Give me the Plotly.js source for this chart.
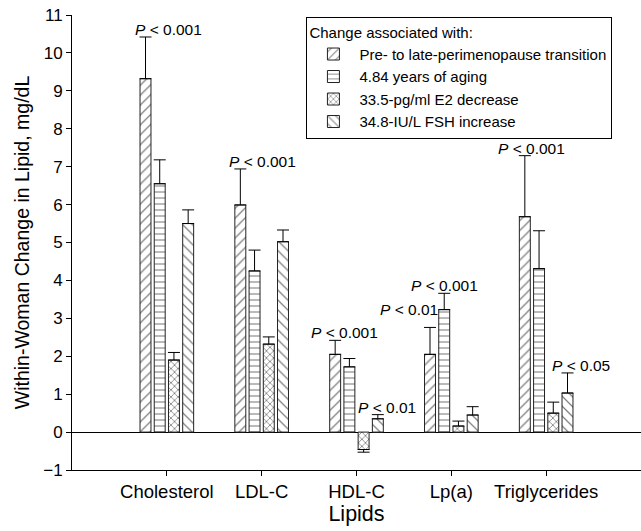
<!DOCTYPE html>
<html>
<head>
<meta charset="utf-8">
<script src="https://cdn.plot.ly/plotly-3.0.1.min.js"></script>
<style>html,body{margin:0;padding:0;background:#fff}#chart{width:641px;height:531px}</style>
</head>
<body>
<div id="chart"></div>
<script>
// Data
var categories = ["Cholesterol", "LDL-C", "HDL-C", "Lp(a)", "Triglycerides"];
var seriesNames = [
  "Pre- to late-perimenopause transition",
  "4.84 years of aging",
  "33.5-pg/ml E2 decrease",
  "34.8-IU/L FSH increase"
];
var transitionVals = [9.32, 5.99, 2.05, 2.05, 5.68];
var transitionErr  = [1.10, 0.95, 0.37, 0.71, 1.61];
var agingVals      = [6.55, 4.25, 1.72, 3.23, 4.31];
var agingErr       = [0.63, 0.55, 0.22, 0.43, 1.00];
var e2Vals         = [1.90, 2.32, -0.46, 0.16, 0.50];
var e2Err          = [0.20, 0.19, 0.07, 0.13, 0.29];
var fshVals        = [5.50, 5.02, 0.35, 0.45, 1.03];
var fshErr         = [0.36, 0.31, 0.11, 0.22, 0.53];

// P-value labels: text, category index, series index
var pTexts    = ["< 0.001", "< 0.001", "< 0.001", "< 0.01", "< 0.01", "< 0.001", "< 0.001", "< 0.05"];
var pCategory = [0, 1, 2, 2, 3, 3, 4, 4];
var pSeries   = [0, 0, 0, 3, 0, 1, 0, 3];

// Build
var xPos = categories.map(function (_, i) { return i + 1; });
var vals = [transitionVals, agingVals, e2Vals, fshVals];
var errs = [transitionErr, agingErr, e2Err, fshErr];
var shapes = ["/", "-", "x", "\\"];
var patSize = [7, 6, 5, 7];
var patSolid = [0.18, 0.18, 0.3, 0.18];

var traces = vals.map(function (v, s) {
  return {
    type: "bar",
    name: seriesNames[s],
    x: xPos,
    y: v,
    marker: {
      color: "white",
      line: { color: "#222", width: 1 },
      pattern: { shape: shapes[s], fgcolor: "#000", bgcolor: "white", size: patSize[s], solidity: patSolid[s], fillmode: "overlay" }
    },
    error_y: {
      type: "data", symmetric: false,
      array: v.map(function (y, i) { return y >= 0 ? errs[s][i] : 0; }),
      arrayminus: v.map(function (y, i) { return y < 0 ? errs[s][i] : 0; }),
      color: "#000", thickness: 1, width: 6
    }
  };
});

var offsets = [-0.225, -0.075, 0.075, 0.225];
var labelShift = [[23, 0], [22, 0], [9, 0], [9, 0], [-21, 10], [0, 0], [7, 0], [13, 0]];
var annotations = pTexts.map(function (t, k) {
  var c = pCategory[k], s = pSeries[k];
  var y = vals[s][c] + errs[s][c];
  return {
    x: xPos[c] + offsets[s], y: y, xref: "x", yref: "y",
    text: "<i>P</i> " + t, showarrow: false,
    xanchor: "center", yanchor: "bottom",
    xshift: labelShift[k][0], yshift: labelShift[k][1] - 3,
    font: { family: "Liberation Sans, Arial, sans-serif", size: 15.5, color: "#000" }
  };
});

var layout = {
  width: 641, height: 531,
  margin: { l: 72, r: 0, t: 15, b: 61 },
  paper_bgcolor: "white", plot_bgcolor: "white",
  font: { family: "Liberation Sans, Arial, sans-serif", color: "#000" },
  barmode: "group", bargap: 0.4, bargroupgap: 0.23,
  showlegend: true,
  legend: {
    x: 0.412, y: 0.995, xanchor: "left", yanchor: "top",
    bgcolor: "white", bordercolor: "#000", borderwidth: 1,
    font: { size: 15 }, traceorder: "normal", tracegroupgap: 0,
    itemwidth: 42,
    title: { text: "Change associated with:", font: { size: 15 } }
  },
  xaxis: {
    range: [0, 6], tickvals: xPos, ticktext: categories,
    showline: true, linecolor: "#000", linewidth: 1, mirror: false,
    ticks: "outside", ticklen: 5, tickcolor: "#000",
    showgrid: false, zeroline: false,
    tickfont: { size: 18.5 },
    title: { text: "Lipids", font: { size: 21.5 }, standoff: 4 }
  },
  yaxis: {
    range: [-1, 11], dtick: 1, tick0: 0,
    showline: true, linecolor: "#000", linewidth: 1,
    ticks: "outside", ticklen: 5, tickcolor: "#000",
    showgrid: false, zeroline: true, zerolinecolor: "#000", zerolinewidth: 1,
    tickfont: { size: 17 },
    title: { text: "Within-Woman Change in Lipid, mg/dL", font: { size: 19.5 }, standoff: 8 }
  },
  annotations: annotations
};

Plotly.newPlot("chart", traces, layout, { displayModeBar: false, staticPlot: true });
</script>
</body>
</html>
